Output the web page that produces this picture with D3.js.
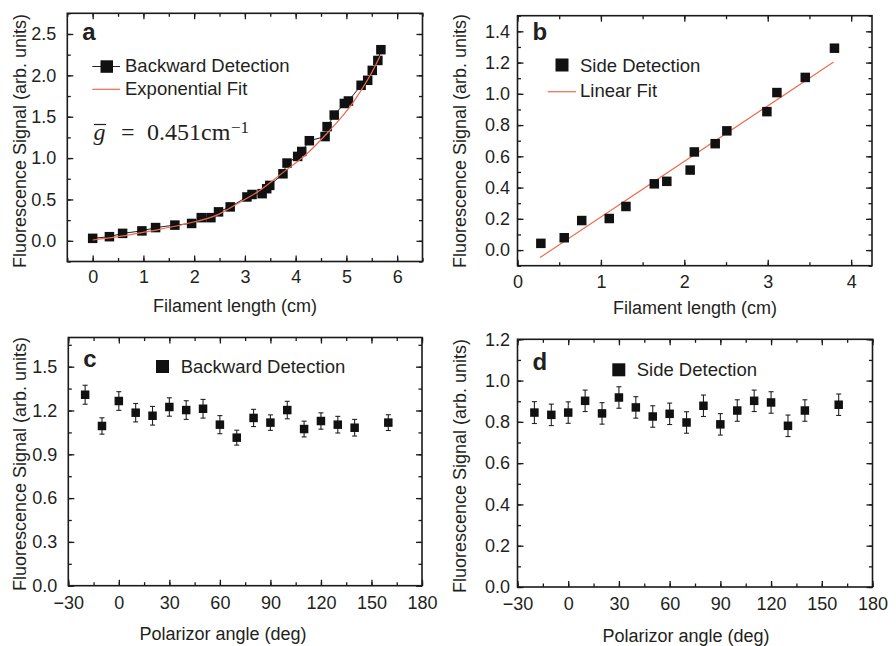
<!DOCTYPE html>
<html>
<head>
<meta charset="utf-8">
<script src="https://cdn.jsdelivr.net/npm/d3@7"></script>
<style>
  body { margin: 0; background: #fff; }
  svg text { font-family: "Liberation Sans", Arial, Helvetica, sans-serif; fill: #231f20; }
</style>
</head>
<body>
<svg id="chart" width="896" height="646"></svg>
<script>
// Panel a: backward detection vs filament length
const aLength = [0.0, 0.33, 0.59, 0.97, 1.24, 1.62, 1.95, 2.14, 2.33, 2.48, 2.71, 3.04, 3.14, 3.34, 3.43, 3.49,
  3.75, 3.83, 4.04, 4.12, 4.27, 4.58, 4.62, 4.76, 4.96, 5.04, 5.29, 5.42, 5.51, 5.62, 5.68];
const aSignal = [0.03, 0.05, 0.09, 0.12, 0.16, 0.19, 0.21, 0.28, 0.28, 0.35, 0.41, 0.53, 0.56, 0.57, 0.63, 0.67,
  0.81, 0.94, 1.02, 1.08, 1.21, 1.26, 1.38, 1.52, 1.66, 1.69, 1.88, 1.94, 2.06, 2.18, 2.31];
// exponential fit curve
const aFitLength = [0, 0.5, 1.16, 1.8, 2.48, 2.91, 3.27, 3.76, 4.2, 4.62, 5.14, 5.59, 5.66];
const aFitSignal = [0.01, 0.05, 0.12, 0.2, 0.32, 0.47, 0.6, 0.83, 1.04, 1.3, 1.68, 2.14, 2.23];

// Panel b: side detection vs filament length
const bLength = [0.28, 0.56, 0.77, 1.10, 1.30, 1.64, 1.79, 2.07, 2.12, 2.37, 2.51, 2.99, 3.11, 3.45, 3.80];
const bSignal = [0.043, 0.079, 0.189, 0.202, 0.279, 0.424, 0.44, 0.512, 0.628, 0.681, 0.763, 0.886, 1.008, 1.105, 1.292];
const bFitLength = [0.27, 3.79];
const bFitSignal = [-0.048, 1.204];

// Panels c and d: signal vs polarizer angle
const angles = [-20, -10, 0, 10, 20, 30, 40, 50, 60, 70, 80, 90, 100, 110, 120, 130, 140, 160];
const cSignal = [1.308, 1.094, 1.265, 1.185, 1.164, 1.224, 1.203, 1.212, 1.103, 1.014, 1.149, 1.117, 1.203, 1.073, 1.128, 1.103, 1.082, 1.117];
const cError = [0.065, 0.056, 0.064, 0.063, 0.064, 0.063, 0.064, 0.064, 0.062, 0.051, 0.059, 0.053, 0.060, 0.054, 0.056, 0.057, 0.057, 0.054];
const dSignal = [0.845, 0.834, 0.845, 0.902, 0.841, 0.918, 0.870, 0.826, 0.839, 0.797, 0.878, 0.788, 0.855, 0.902, 0.894, 0.781, 0.855, 0.883];
const dError = [0.053, 0.052, 0.052, 0.052, 0.052, 0.052, 0.052, 0.052, 0.052, 0.052, 0.052, 0.052, 0.052, 0.052, 0.052, 0.052, 0.052, 0.052];

const lengthTicksA = [0, 1, 2, 3, 4, 5, 6];
const lengthTicksB = [0, 1, 2, 3, 4];
const angleTicks = [-30, 0, 30, 60, 90, 120, 150, 180];
const signalTicksA = [0, 0.5, 1.0, 1.5, 2.0, 2.5];
const signalTicksB = [0, 0.2, 0.4, 0.6, 0.8, 1.0, 1.2, 1.4];
const signalTicksC = [0, 0.3, 0.6, 0.9, 1.2, 1.5];
const signalTicksD = [0, 0.2, 0.4, 0.6, 0.8, 1.0, 1.2];

const yTitle = "Fluorescence Signal (arb. units)";
const fitColor = "#ef6a4f";
const ink = "#1a1a1a";

const svg = d3.select("#chart");

// Draws frame, inward ticks and labels; returns the scales
function drawPanel(p) {
  const g = svg.append("g");
  const x = d3.scaleLinear().domain(p.xDomain).range([p.left, p.right]);
  const y = d3.scaleLinear().domain(p.yDomain).range([p.bottom, p.top]);

  const clean = (sel) => {
    sel.select(".domain").remove();
    sel.selectAll("line").attr("stroke", ink).attr("stroke-width", 1.3);
    sel.attr("font-size", 18).attr("font-family", null);
    sel.selectAll("text").attr("fill", "#231f20");
  };

  // minor ticks on all sides
  g.append("g").attr("transform", `translate(0,${p.bottom})`)
    .call(d3.axisBottom(x).tickValues(p.xMinor).tickSize(-3.5).tickFormat("")).call(clean);
  g.append("g").attr("transform", `translate(0,${p.top})`)
    .call(d3.axisTop(x).tickValues(p.xMinor).tickSize(-3.5).tickFormat("")).call(clean);
  g.append("g").attr("transform", `translate(${p.left},0)`)
    .call(d3.axisLeft(y).tickValues(p.yMinor).tickSize(-3.5).tickFormat("")).call(clean);
  g.append("g").attr("transform", `translate(${p.right},0)`)
    .call(d3.axisRight(y).tickValues(p.yMinor).tickSize(-3.5).tickFormat("")).call(clean);

  // major ticks
  g.append("g").attr("transform", `translate(0,${p.bottom})`)
    .call(d3.axisBottom(x).tickValues(p.xTicks).tickSizeInner(-6).tickSizeOuter(0)
      .tickPadding(p.xPad).tickFormat(p.xFormat)).call(clean);
  g.append("g").attr("transform", `translate(0,${p.top})`)
    .call(d3.axisTop(x).tickValues(p.xTicks).tickSize(-6).tickFormat("")).call(clean);
  g.append("g").attr("transform", `translate(${p.left},0)`)
    .call(d3.axisLeft(y).tickValues(p.yTicks).tickSizeInner(-6).tickSizeOuter(0)
      .tickPadding(p.yPad).tickFormat(d3.format(".1f"))).call(clean);
  g.append("g").attr("transform", `translate(${p.right},0)`)
    .call(d3.axisRight(y).tickValues(p.yTicks).tickSize(-6).tickFormat("")).call(clean);

  g.append("rect")
    .attr("x", p.left).attr("y", p.top)
    .attr("width", p.right - p.left).attr("height", p.bottom - p.top)
    .attr("fill", "none").attr("stroke", ink).attr("stroke-width", 1.6);

  // titles
  g.append("text")
    .attr("x", p.xTitleX).attr("y", p.xTitleY)
    .attr("text-anchor", "middle").attr("font-size", 18)
    .text(p.xTitle);
  g.append("text")
    .attr("transform", `translate(${p.yTitleX},${p.yTitleY}) rotate(-90)`)
    .attr("text-anchor", "middle").attr("font-size", 18)
    .text(yTitle);

  // panel letter
  g.append("text")
    .attr("x", p.left + 15).attr("y", p.letterY)
    .attr("font-size", 24).attr("font-weight", "bold")
    .text(p.letter);

  return { g, x, y };
}

function squares(g, xs, ys, x, y, size) {
  g.append("g").selectAll("rect")
    .data(xs.map((v, i) => [v, ys[i]]))
    .join("rect")
    .attr("x", (d) => x(d[0]) - size / 2)
    .attr("y", (d) => y(d[1]) - size / 2)
    .attr("width", size).attr("height", size)
    .attr("fill", "#111");
}

function errorBars(g, xs, ys, errs, x, y) {
  const bars = g.append("g").attr("stroke", "#222").attr("stroke-width", 1.1);
  xs.forEach((v, i) => {
    const cx = x(v), y0 = y(ys[i] - errs[i]), y1 = y(ys[i] + errs[i]);
    bars.append("line").attr("x1", cx).attr("x2", cx).attr("y1", y0).attr("y2", y1);
    bars.append("line").attr("x1", cx - 2.5).attr("x2", cx + 2.5).attr("y1", y0).attr("y2", y0);
    bars.append("line").attr("x1", cx - 2.5).attr("x2", cx + 2.5).attr("y1", y1).attr("y2", y1);
  });
}

function legendText(g, tx, ty, label) {
  g.append("text").attr("x", tx).attr("y", ty).attr("font-size", 18.5).text(label);
}

// ---------- panel a ----------
const A = drawPanel({
  left: 67.3, right: 422.5, top: 13.3, bottom: 261.5,
  xDomain: [-0.5, 6.5], yDomain: [-0.25, 2.75],
  xTicks: lengthTicksA, xMinor: d3.range(-0.5, 6.51, 0.5), xFormat: d3.format("d"),
  yTicks: signalTicksA, yMinor: d3.range(-0.25, 2.76, 0.25),
  xPad: 8.7, yPad: 11,
  xTitle: "Filament length (cm)", xTitleX: 235, xTitleY: 311.5,
  yTitleX: 25.5, yTitleY: 141,
  letter: "a", letterY: 39.5
});
A.g.append("path")
  .datum(aLength.map((v, i) => [v, aSignal[i]]))
  .attr("fill", "none").attr("stroke", "#222").attr("stroke-width", 1)
  .attr("d", d3.line().x((d) => A.x(d[0])).y((d) => A.y(d[1])));
squares(A.g, aLength, aSignal, A.x, A.y, 9.5);
A.g.append("path")
  .datum(aFitLength.map((v, i) => [v, aFitSignal[i]]))
  .attr("fill", "none").attr("stroke", fitColor).attr("stroke-width", 1.2)
  .attr("d", d3.line().curve(d3.curveMonotoneX).x((d) => A.x(d[0])).y((d) => A.y(d[1])));
// legend a
A.g.append("line").attr("x1", 92.3).attr("x2", 120).attr("y1", 66.5).attr("y2", 66.5)
  .attr("stroke", "#222").attr("stroke-width", 1);
A.g.append("rect").attr("x", 100.5).attr("y", 60.3).attr("width", 12.5).attr("height", 12.5).attr("fill", "#111");
legendText(A.g, 125, 72, "Backward Detection");
A.g.append("line").attr("x1", 92.3).attr("x2", 120).attr("y1", 89.3).attr("y2", 89.3)
  .attr("stroke", fitColor).attr("stroke-width", 1.2);
legendText(A.g, 125, 95, "Exponential Fit");
// g-bar formula
const formula = A.g.append("g").attr("font-family", "'Liberation Serif','Times New Roman',serif");
formula.append("text").attr("x", 93.5).attr("y", 140).attr("font-size", 24).attr("font-style", "italic")
  .style("font-family", "'Liberation Serif','Times New Roman',serif").text("g");
formula.append("line").attr("x1", 94).attr("x2", 106).attr("y1", 124.5).attr("y2", 124.5)
  .attr("stroke", "#231f20").attr("stroke-width", 1.2);
formula.append("text").attr("x", 121).attr("y", 140).attr("font-size", 24)
  .style("font-family", "'Liberation Serif','Times New Roman',serif").text("=");
formula.append("text").attr("x", 147).attr("y", 140).attr("font-size", 24)
  .style("font-family", "'Liberation Serif','Times New Roman',serif").text("0.451cm");
formula.append("text").attr("x", 231).attr("y", 133).attr("font-size", 17)
  .style("font-family", "'Liberation Serif','Times New Roman',serif").text("\u22121");

// ---------- panel b ----------
const B = drawPanel({
  left: 517.5, right: 872, top: 15.7, bottom: 265.7,
  xDomain: [0, 4.25], yDomain: [-0.1, 1.5],
  xTicks: lengthTicksB, xMinor: d3.range(0, 4.26, 0.5), xFormat: d3.format("d"),
  yTicks: signalTicksB, yMinor: d3.range(-0.1, 1.51, 0.1),
  xPad: 9.5, yPad: 7.5,
  xTitle: "Filament length (cm)", xTitleX: 695, xTitleY: 313.5,
  yTitleX: 466, yTitleY: 141,
  letter: "b", letterY: 40
});
B.g.append("path")
  .datum(bFitLength.map((v, i) => [v, bFitSignal[i]]))
  .attr("fill", "none").attr("stroke", fitColor).attr("stroke-width", 1.2)
  .attr("d", d3.line().x((d) => B.x(d[0])).y((d) => B.y(d[1])));
squares(B.g, bLength, bSignal, B.x, B.y, 9.5);
B.g.append("rect").attr("x", 555.5).attr("y", 58.5).attr("width", 13).attr("height", 13).attr("fill", "#111");
legendText(B.g, 580, 71.5, "Side Detection");
B.g.append("line").attr("x1", 547.7).attr("x2", 576).attr("y1", 91.7).attr("y2", 91.7)
  .attr("stroke", fitColor).attr("stroke-width", 1.2);
legendText(B.g, 580, 97, "Linear Fit");

// ---------- panel c ----------
const C = drawPanel({
  left: 68.3, right: 422, top: 337.5, bottom: 585.7,
  xDomain: [-30, 180], yDomain: [0, 1.7],
  xTicks: angleTicks, xMinor: d3.range(-30, 181, 15), xFormat: d3.format("d"),
  yTicks: signalTicksC, yMinor: d3.range(0, 1.71, 0.15),
  xPad: 10.5, yPad: 11,
  xTitle: "Polarizor angle (deg)", xTitleX: 223, xTitleY: 639.5,
  yTitleX: 25.5, yTitleY: 464,
  letter: "c", letterY: 367
});
errorBars(C.g, angles, cSignal, cError, C.x, C.y);
squares(C.g, angles, cSignal, C.x, C.y, 8.5);
C.g.append("rect").attr("x", 156).attr("y", 360).attr("width", 13).attr("height", 13).attr("fill", "#111");
legendText(C.g, 180.7, 373, "Backward Detection");

// ---------- panel d ----------
const D = drawPanel({
  left: 517.5, right: 872.5, top: 339.3, bottom: 587,
  xDomain: [-30, 180], yDomain: [0, 1.2],
  xTicks: angleTicks, xMinor: d3.range(-30, 181, 15), xFormat: d3.format("d"),
  yTicks: signalTicksD, yMinor: d3.range(0, 1.21, 0.1),
  xPad: 10.5, yPad: 7.5,
  xTitle: "Polarizor angle (deg)", xTitleX: 686, xTitleY: 641.5,
  yTitleX: 466, yTitleY: 466,
  letter: "d", letterY: 369.5
});
errorBars(D.g, angles, dSignal, dError, D.x, D.y);
squares(D.g, angles, dSignal, D.x, D.y, 8.5);
D.g.append("rect").attr("x", 612.3).attr("y", 363.3).attr("width", 13).attr("height", 13).attr("fill", "#111");
legendText(D.g, 636.7, 375.5, "Side Detection");
</script>
</body>
</html>
